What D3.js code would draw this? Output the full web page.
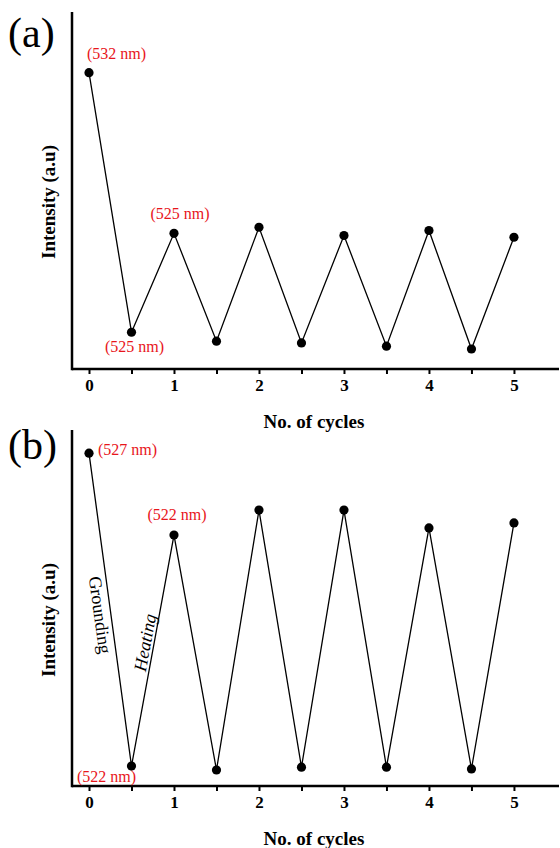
<!DOCTYPE html>
<html>
<head>
<meta charset="utf-8">
<script src="https://cdn.jsdelivr.net/npm/d3@7"></script>
<style>
  html, body { margin: 0; padding: 0; background: #fff; }
  svg { display: block; }
  svg text { font-family: "Liberation Serif", "Times New Roman", Times, "DejaVu Serif", serif; }
</style>
</head>
<body>
<svg id="chart" width="560" height="848"></svg>
<script>
// ---- Data ----
const cycles = [0, 0.5, 1, 1.5, 2, 2.5, 3, 3.5, 4, 4.5, 5];
const intensityA = [83.0, 10.3, 38.0, 7.8, 39.7, 7.3, 37.4, 6.4, 38.8, 5.6, 36.9];
const intensityB = [93.5, 5.6, 70.5, 4.5, 77.5, 5.3, 77.5, 5.3, 72.5, 4.8, 73.9];
const tickValues = [0, 0.5, 1, 1.5, 2, 2.5, 3, 3.5, 4, 4.5, 5];
const tickLabels = ["0", "", "1", "", "2", "", "3", "", "4", "", "5"];
const panelLabels = ["(a)", "(b)"];
const annotationsA = [
  { i: 0, text: "(532 nm)", dx: -2, dy: -14, anchor: "start" },
  { i: 2, text: "(525 nm)", dx: 6, dy: -14, anchor: "middle" },
  { i: 1, text: "(525 nm)", dx: 3, dy: 20, anchor: "middle" }
];
const annotationsB = [
  { i: 0, text: "(527 nm)", dx: 9, dy: 2, anchor: "start" },
  { i: 2, text: "(522 nm)", dx: 3, dy: -15, anchor: "middle" },
  { i: 1, text: "(522 nm)", dx: -25, dy: 16, anchor: "middle" }
];

const svg = d3.select("#chart");

const x = d3.scaleLinear().domain([-0.2, 5.53]).range([72, 559]);

function panel(values, top, bottom, label, labelY, annotations, yLabelY, xLabelY) {
  const y = d3.scaleLinear().domain([0, 100]).range([bottom, top]);
  const g = svg.append("g");

  // x axis ticks
  const axis = d3.axisBottom(x)
    .tickValues(tickValues)
    .tickSize(5)
    .tickFormat((d, i) => tickLabels[i]);
  const ax = g.append("g").attr("transform", `translate(0,${bottom})`).call(axis);
  ax.attr("font-family", null).attr("font-size", null);
  ax.select(".domain").remove();
  ax.selectAll(".tick line").attr("stroke", "#000").attr("stroke-width", 2);
  ax.selectAll(".tick text")
    .attr("y", 10)
    .attr("font-weight", "bold")
    .style("font-size", "17px")
    .attr("fill", "#000");

  // axis lines
  g.append("line").attr("x1", 72).attr("x2", 559).attr("y1", bottom).attr("y2", bottom)
    .attr("stroke", "#000").attr("stroke-width", 2.5);
  g.append("line").attr("x1", 72).attr("x2", 72).attr("y1", top).attr("y2", bottom + 1.25)
    .attr("stroke", "#000").attr("stroke-width", 2.5);

  // line
  const line = d3.line().x((d, i) => x(cycles[i])).y(d => y(d));
  g.append("path").datum(values).attr("d", line)
    .attr("fill", "none").attr("stroke", "#000").attr("stroke-width", 1.3);

  g.selectAll("circle.pt").data(values).enter().append("circle")
    .attr("class", "pt")
    .attr("cx", (d, i) => x(cycles[i]))
    .attr("cy", d => y(d))
    .attr("r", 4.6)
    .attr("fill", "#000");

  // annotations
  annotations.forEach(a => {
    g.append("text")
      .attr("x", x(cycles[a.i]) + a.dx)
      .attr("y", y(values[a.i]) + a.dy)
      .attr("text-anchor", a.anchor)
      .style("font-size", "16px")
      .attr("fill", "#e8151b")
      .text(a.text);
  });

  // panel label
  g.append("text").attr("x", 8).attr("y", labelY)
    .style("font-size", "42px").attr("fill", "#000")
    .text(label);

  // y label
  g.append("text")
    .attr("transform", `translate(55,${yLabelY}) rotate(-90)`)
    .attr("text-anchor", "middle")
    .attr("font-weight", "bold").style("font-size", "19px")
    .attr("fill", "#000")
    .text("Intensity (a.u)");

  // x label
  g.append("text")
    .attr("x", 314).attr("y", xLabelY)
    .attr("text-anchor", "middle")
    .attr("font-weight", "bold").style("font-size", "19px")
    .attr("fill", "#000")
    .text("No. of cycles");

  return y;
}

panel(intensityA, 12, 369, panelLabels[0], 47, annotationsA, 202, 428);
const yB = panel(intensityB, 430, 786, panelLabels[1], 459, annotationsB, 620, 845);

// Grounding / Heating labels along segments in panel b
function segAngle(i0, i1) {
  const dx = x(cycles[i1]) - x(cycles[i0]);
  const dy = yB(intensityB[i1]) - yB(intensityB[i0]);
  return Math.atan2(dy, dx) * 180 / Math.PI;
}
function segPoint(i0, i1, t) {
  return [
    x(cycles[i0]) + t * (x(cycles[i1]) - x(cycles[i0])),
    yB(intensityB[i0]) + t * (yB(intensityB[i1]) - yB(intensityB[i0]))
  ];
}
{
  const ang = segAngle(0, 1);
  const p = segPoint(0, 1, 0.52);
  svg.append("text")
    .attr("transform", `translate(${p[0] - 17},${p[1]}) rotate(${ang})`)
    .attr("text-anchor", "middle")
    .style("font-size", "18px").attr("fill", "#000")
    .text("Grounding");
}
{
  const ang = segAngle(1, 2);
  const p = segPoint(1, 2, 0.53);
  svg.append("text")
    .attr("transform", `translate(${p[0] - 3},${p[1]}) rotate(${ang})`)
    .attr("text-anchor", "middle")
    .attr("font-style", "italic").style("font-size", "18px").attr("fill", "#000")
    .text("Heating");
}
</script>
</body>
</html>
